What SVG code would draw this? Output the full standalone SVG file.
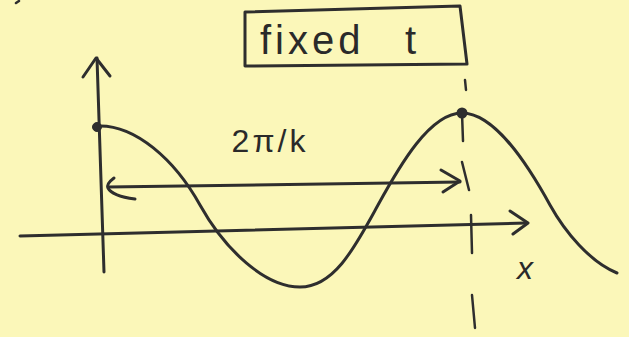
<svg xmlns="http://www.w3.org/2000/svg" width="629" height="337" viewBox="0 0 629 337">
<style>
.ink{fill:none;stroke:#2e2e2e;stroke-width:3;stroke-linecap:round;stroke-linejoin:round}
.thin{fill:none;stroke:#2e2e2e;stroke-width:2.5;stroke-linecap:round}
.lbl{font-family:"Liberation Sans",Arial,sans-serif;fill:#2a2a2a}
</style>
<rect x="0" y="0" width="629" height="337" fill="#fbf7b9"/>
<path class="thin" d="M16,3 L19,1"/>
<g id="axes">
<path class="ink" d="M97,58 L104,272"/>
<path class="ink" d="M83,77 L96,58 L110,76"/>
<path class="ink" d="M20,236 L526,223"/>
<path class="ink" d="M510,211 L528,223 L513,234"/>
</g>
<g id="connectors">
<path class="ink" d="M108,187 L460,182"/>
<path class="ink" d="M114,178 Q106,184 108,188 Q112,196 135,199"/>
<path class="ink" d="M441,170 L460,181 L443,192"/>
<path class="thin" d="M462,162 L469,190 M465,80 L466,90 M462,113 L463,141 M471,215 L472,253 M472,295 L475,328"/>
</g>
<g id="wave">
<path class="ink" d="M97,126 C135,124 175,160 200,205 C225,250 265,287 300,287 C335,287 356,245 378,205 C400,165 430,113 462,113 C495,113 528,165 550,205 C565,232 590,262 617,273"/>
<circle cx="97" cy="127" r="4.5" fill="#2e2e2e" stroke="#2e2e2e" stroke-width="1"/>
<circle cx="462" cy="113" r="5.5" fill="#2e2e2e"/>
</g>
<g id="fixed-t">
<path class="ink" d="M245,12 L460,6 Q463,30 467,64 L245,66 Z"/>
<text class="lbl" x="260" y="54" font-size="40" letter-spacing="4">fixed</text>
<text class="lbl" x="405" y="54" font-size="40">t</text>
</g>
<g id="labels">
<text class="lbl" x="270" y="152" font-size="32" letter-spacing="3" text-anchor="middle">2π/k</text>
<text class="lbl" x="525" y="279" font-size="32" font-style="italic" text-anchor="middle">x</text>
</g>
</svg>
